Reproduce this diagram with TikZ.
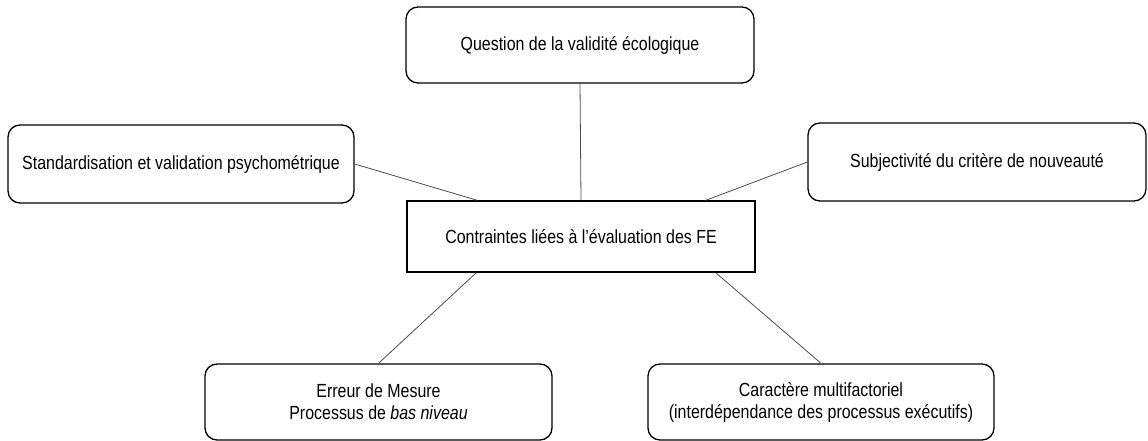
\documentclass[tikz,border=0pt]{standalone}
\usepackage{fontspec}
\setmainfont[FakeStretch=0.84]{Liberation Sans}
\begin{document}
\begin{tikzpicture}[x=1pt,y=-1pt,
  txt/.style={align=center, inner sep=0pt, font=\fontsize{19}{22}\selectfont},
  box/.style={txt, draw, line width=1.3pt, rounded corners=12pt},
  core/.style={txt, draw, line width=1.3pt},
  link/.style={draw=black!70, line width=0.8pt}]
\useasboundingbox (0,0) rectangle (1148,441);
\node[box, minimum width=348pt, minimum height=76pt] (q) at (580,45) {Question de la validité écologique};
\node[box, minimum width=346pt, minimum height=78pt] (s) at (181,164) {Standardisation et validation psychométrique};
\node[box, minimum width=338pt, minimum height=78pt] (r) at (977,162) {Subjectivité du critère de nouveauté};
\node[core, minimum width=348pt, minimum height=71pt] (c) at (581,236.5) {Contraintes liées à l’évaluation des FE};
\node[box, minimum width=347pt, minimum height=76pt] (bl) at (378.5,402) {Erreur de Mesure\\Processus de \textit{bas niveau}};
\node[box, minimum width=346pt, minimum height=76pt] (br) at (821,402) {Caractère multifactoriel\\(interdépendance des processus exécutifs)};
\draw[link] (q.south) -- (c.north);
\draw[link] (s.east) -- ([xshift=71pt]c.north west);
\draw[link] (r.west) -- ([xshift=-50pt]c.north east);
\draw[link] ([xshift=70pt]c.south west) -- (bl.north);
\draw[link] ([xshift=-40pt]c.south east) -- (br.north);
\end{tikzpicture}
\end{document}
